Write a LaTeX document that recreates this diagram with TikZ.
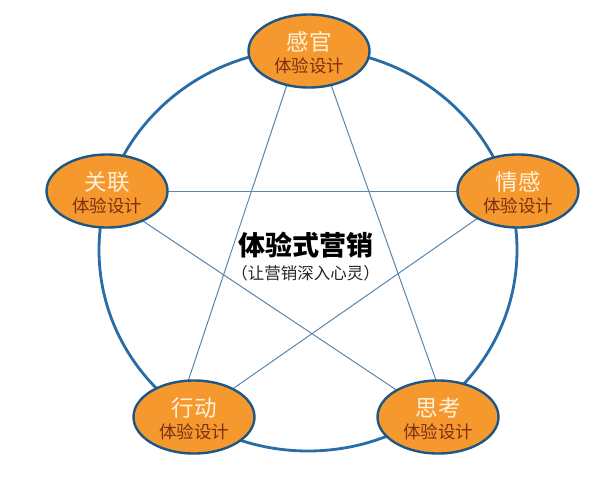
\documentclass[tikz,border=0pt]{standalone}
\usepackage{fontspec}
\setmainfont{Noto Sans CJK SC}
\usetikzlibrary{shapes.geometric,backgrounds,calc}
\definecolor{ringblue}{HTML}{2A6CA6}
\definecolor{edgeblue}{HTML}{1E5684}
\definecolor{starblue}{HTML}{5B86AE}
\definecolor{orangefill}{HTML}{F5992F}
\definecolor{creamtxt}{HTML}{FFF1DC}
\definecolor{browntxt}{HTML}{7E2E12}
\tikzset{
  petal/.style={ellipse, draw=edgeblue, line width=2.4pt, fill=orangefill,
    minimum width=121pt, minimum height=73pt, inner sep=0pt, outer sep=0pt},
  headtxt/.style={font=\fontsize{22.5}{22.5}\selectfont, text=creamtxt, inner sep=0pt},
  subtxt/.style={font=\fontsize{17.5}{17.5}\selectfont, text=browntxt, inner sep=0pt},
  ringline/.style={draw=ringblue, line width=2.8pt},
  starline/.style={draw=starblue, line width=1pt},
}
\begin{document}
\begin{tikzpicture}[x=1pt,y=-1pt]
\path[use as bounding box] (0,0) rectangle (596,500);
% petals
\node[petal] (T)  at (309,51)  {};
\node[petal] (L)  at (107,191) {};
\node[petal] (R)  at (518,191) {};
\node[petal] (BL) at (194,417) {};
\node[petal] (BR) at (438,417) {};
% labels inside petals
\foreach \n/\h in {T/感官, L/关联, R/情感, BL/行动, BR/思考}{
  \node[headtxt] (\n h) at ($(\n)+(0,-9)$) {\h};
  \node[subtxt]  (\n s) at ($(\n)+(0,15)$) {体验设计};
}
% center title
\node[inner sep=0pt, font=\fontsize{27}{27}\selectfont\bfseries] (title) at (305.5,245) {体验式营销};
\node[inner sep=0pt, font=\fontsize{16.5}{16.5}\selectfont, text=black!85] (subtitle) at (305.5,273) {（让营销深入心灵）};
% ring and star on background
\begin{scope}[on background layer]
  \fill[white] (0,0) rectangle (596,500);
  \coordinate (ringc) at (308,250);
  \draw[ringline] (ringc) ellipse [x radius=209, y radius=201];
  \draw[starline] (T.237) -- (BL.99);
  \draw[starline] (T.303) -- (BR.93);
  \draw[starline] (L.0) -- (R.180);
  \draw[starline] (L.320) -- (BR.147);
  \draw[starline] (R.214) -- (BL.36);
\end{scope}
\end{tikzpicture}
\end{document}
